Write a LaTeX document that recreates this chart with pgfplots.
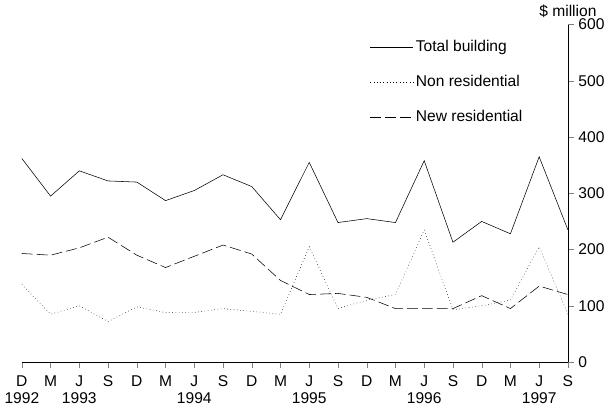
\documentclass[border=0pt]{standalone}
\usepackage{pgfplots}
\pgfplotsset{compat=1.18}
\usepackage{fontspec}
\setmainfont{Liberation Sans}
\begin{document}
\begin{tikzpicture}
\begin{axis}[
  scale only axis, width=403pt, height=249pt,
  xmin=0, xmax=19, ymin=0, ymax=600,
  axis x line=bottom, axis y line=right,
  axis line style={-, thin},
  ytick={0,100,...,600}, tick align=outside,
  xtick={0,...,19},
  xticklabels={D\\1992,M,J\\1993,S,D,M,J\\1994,S,D,M,J\\1995,S,D,M,J\\1996,S,D,M,J\\1997,S},
  xticklabel style={align=center, anchor=north, yshift=-2pt},
  /pgf/number format/assume math mode=true,
  tick label style={font=\fontsize{11.5}{13}\selectfont},
  legend style={draw=none, fill=none, at={(0.63,0.97)}, anchor=north west, font=\fontsize{11.5}{20}\selectfont, row sep=12pt},
  legend image code/.code={\draw[#1] (0cm,0cm) -- (1.1cm,0cm);},
  legend cell align=left,
  clip=false,
]
\addplot[black, thin] coordinates {(0,362)(1,295)(2,340)(3,322)(4,320)(5,287)(6,305)(7,333)(8,312)(9,253)(10,355)(11,248)(12,255)(13,248)(14,358)(15,213)(16,250)(17,228)(18,365)(19,235)};
\addlegendentry{Total building}
\addplot[black, thin, dotted] coordinates {(0,138)(1,85)(2,100)(3,72)(4,98)(5,88)(6,88)(7,95)(8,90)(9,85)(10,205)(11,95)(12,110)(13,120)(14,235)(15,93)(16,100)(17,110)(18,205)(19,85)};
\addlegendentry{Non residential}
\addplot[black, thin, dash pattern=on 8pt off 3pt] coordinates {(0,193)(1,190)(2,203)(3,222)(4,190)(5,168)(6,188)(7,208)(8,192)(9,145)(10,120)(11,122)(12,115)(13,95)(14,95)(15,95)(16,118)(17,95)(18,135)(19,120)};
\addlegendentry{New residential}
\node[anchor=south, font=\fontsize{11.5}{13}\selectfont] at (rel axis cs:1,1) [yshift=2pt] {\$ million};
\end{axis}
\end{tikzpicture}
\end{document}
